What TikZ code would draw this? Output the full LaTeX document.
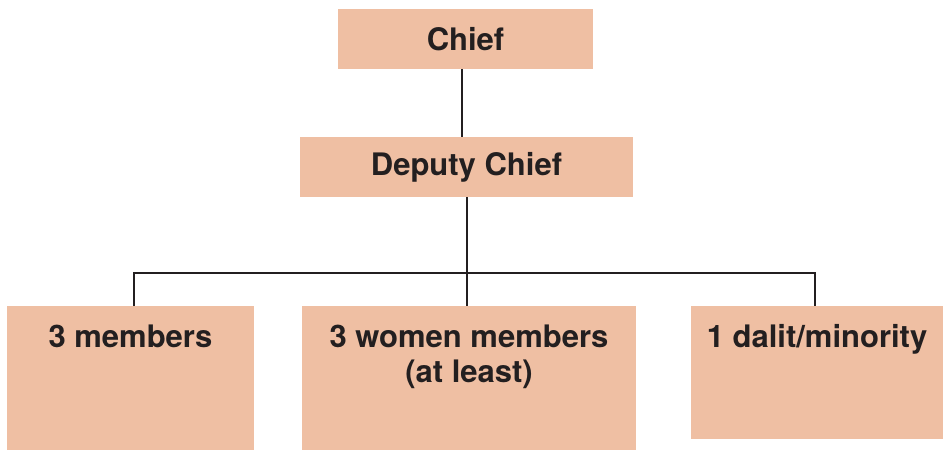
\documentclass[tikz,border=0pt]{standalone}
\usepackage{fontspec}
\setmainfont{TeX Gyre Heros}
\definecolor{boxfill}{RGB}{239,191,163}
\definecolor{ink}{RGB}{35,31,32}
\begin{document}
\begin{tikzpicture}[x=1pt,y=-1pt,
  topbox/.style={fill=boxfill, inner sep=0pt, minimum height=60pt, text=ink,
    font=\fontsize{31}{35}\bfseries\selectfont},
  lowbox/.style={fill=boxfill, inner sep=0pt, anchor=north, align=center, text=ink,
    font=\fontsize{31}{35}\bfseries\selectfont},
  link/.style={draw=ink, line width=2pt}]
\useasboundingbox (0,0) rectangle (943,450);
\node[topbox, minimum width=255pt] (chief) at (465.5,39) {Chief};
\node[topbox, minimum width=333pt] (deputy) at (466.5,167) {Deputy Chief};
\node[lowbox, minimum width=247pt, text height=41pt, text depth=103pt] (mem) at (130.5,306) {3 members};
\node[lowbox, minimum width=334pt, text height=76pt, text depth=68pt] (women) at (469,306) {3 women members\\(at least)};
\node[lowbox, minimum width=253pt, text height=41pt, text depth=92pt] (dalit) at (817,306) {1 dalit/minority};
\coordinate (bar) at (466,273);
\draw[link] ([xshift=-3.5pt]chief.south) -- ([xshift=-3.5pt]chief.south |- deputy.north);
\draw[link] (deputy.south) -- (deputy.south |- women.north);
\draw[link] ([xshift=3pt]mem.north) -- ([xshift=3pt]mem.north |- bar) -- ([xshift=-2pt]dalit.north |- bar) -- ([xshift=-2pt]dalit.north);
\end{tikzpicture}
\end{document}
